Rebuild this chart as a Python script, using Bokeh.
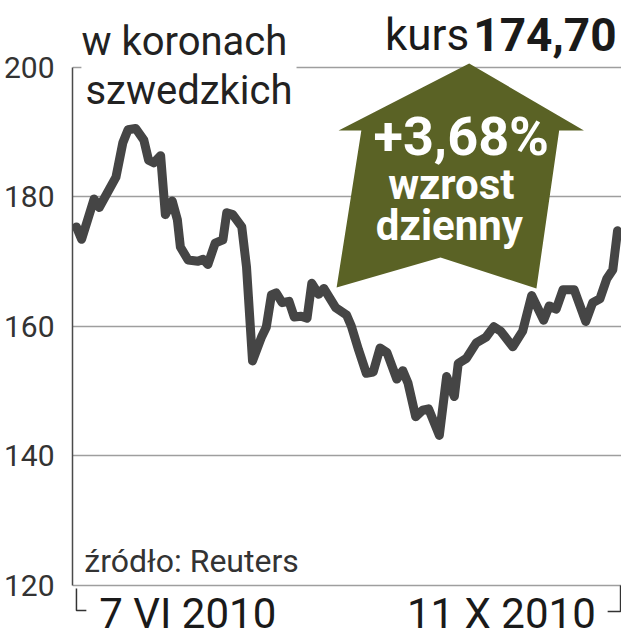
from bokeh.plotting import figure
from bokeh.models import Range1d, FixedTicker, Label
from bokeh.embed import file_html
from bokeh.resources import INLINE

# ---------------- data ----------------
# calendar days since 7 VI 2010
days = [0, 1.2, 4.1, 5.3, 9.2, 10.8, 12.0, 13.8, 15.7, 16.8, 18.0, 19.6, 20.7, 22.3,
        23.5, 24.2, 26.0, 28.3, 29.5, 30.6, 32.3, 34.1, 35.0, 36.4, 38.5, 39.6, 41.0,
        43.1, 44.2, 45.4, 46.5, 47.9, 49.5, 50.7, 52.3, 53.7, 54.8, 56.4, 57.6, 60.4,
        62.9, 64.0, 65.7, 67.5, 69.1, 70.7, 72.3, 74.6, 76.0, 77.2, 79.0, 80.6, 82.0,
        84.5, 86.2, 88.0, 88.9, 90.8, 93.1, 95.4, 97.2, 98.8, 101.6, 103.9, 106.0,
        108.8, 110.1, 111.7, 113.3, 115.9, 118.6, 120.2, 121.9, 123.5, 124.9, 126.0]
prices = [175.3, 173.4, 179.6, 178.3, 183.0, 188.3, 190.3, 190.5, 188.7, 185.6, 185.2,
          186.3, 177.2, 179.3, 176.4, 172.2, 170.2, 170.0, 170.3, 169.5, 172.8, 173.3,
          177.5, 177.2, 175.3, 169.1, 154.6, 158.3, 159.8, 164.8, 165.1, 163.6, 163.8,
          161.4, 161.5, 161.2, 166.6, 164.9, 165.8, 162.8, 161.7, 160.0, 156.3, 152.7,
          152.9, 156.6, 155.9, 151.8, 153.1, 151.2, 146.0, 147.0, 147.2, 143.1, 152.2,
          149.1, 154.2, 155.0, 157.4, 158.3, 159.9, 159.2, 156.8, 159.2, 164.7, 160.9,
          163.1, 162.6, 165.6, 165.6, 160.7, 163.6, 164.2, 167.3, 168.7, 174.7]

y_ticks = [120, 140, 160, 180, 200]
date_labels = ["7 VI 2010", "11 X 2010"]
unit_lines = ["w koronach", "szwedzkich"]
price_prefix = "kurs"
price_label = "174,70"
change_label = "+3,68%"
change_words = ["wzrost", "dzienny"]
source_label = "źródło: Reuters"

# ---------------- layout helpers (reference pixel -> data) ----------------
PX_PER_DAY = 547 / 126.0
PX_PER_UNIT = 6.475

def dx(px):
    return (px - 70) / PX_PER_DAY

def vy(py):
    return 120 + (584.5 - py) / PX_PER_UNIT

W, H = 621, 640
LEFT = 66
x0 = dx(LEFT)
x1 = dx(W)

p = figure(width=W, height=H, output_backend="svg", toolbar_location=None,
           x_axis_type=None, x_range=Range1d(x0, x1),
           y_range=Range1d(vy(H), vy(0)),
           min_border_left=LEFT, min_border_right=0, min_border_top=0,
           min_border_bottom=0)
p.outline_line_color = None
p.background_fill_color = "white"
p.border_fill_color = "white"

# y axis
p.yaxis.ticker = FixedTicker(ticks=y_ticks)
p.yaxis.bounds = (y_ticks[0], y_ticks[-1])
p.yaxis.major_tick_line_color = None
p.yaxis.minor_tick_line_color = None
p.yaxis.major_label_standoff = 12
p.yaxis.major_label_text_font = "Roboto"
p.yaxis.major_label_text_font_size = "30px"
p.yaxis.major_label_text_color = "#333333"
p.yaxis.axis_line_color = "#4a4a4a"
p.yaxis.axis_line_width = 1.5

p.ygrid.ticker = FixedTicker(ticks=y_ticks)
p.ygrid.grid_line_color = "#9e9e9e"
p.ygrid.grid_line_width = 1.5
p.xgrid.grid_line_color = None

# arrow (decoration)
arrow_px = [(467, 63), (583, 130), (558, 130), (535, 288), (438, 257),
            (333, 287), (358, 130), (335, 130)]
p.patch([dx(a) for a, b in arrow_px], [vy(b) for a, b in arrow_px],
        fill_color="#5a6225", line_color=None)

# price line
p.line(days, prices, line_width=9, line_color="#454545",
       line_join="round", line_cap="round")

# end brackets of the time axis
xl = days[0]
xr = days[-1] + 0.7
p.line([xl, xl, dx(80)], [vy(588), vy(610), vy(610)], line_color="#333333", line_width=1.5)
p.line([dx(607), xr, xr], [vy(611), vy(611), vy(585)], line_color="#333333", line_width=1.5)

K = 0.31  # empirical baseline correction (fraction of font size)

def lab(text, x, base_py, size, align="left", style="normal", color="#222222", **kw):
    p.add_layout(Label(x=x, y=vy(base_py - K * size), text=text, text_font="Roboto",
                       text_font_size=f"{size}px", text_font_style=style,
                       text_color=color, text_align=align,
                       text_baseline="alphabetic", **kw))

lab(unit_lines[0], dx(75), 53, 40)
lab(unit_lines[1], dx(75), 102, 40, background_fill_color="white", padding=4)
lab(price_prefix, dx(467), 48, 44, align="right", color="#1a1a1a")
lab(price_label, dx(616), 48, 46, align="right", style="bold", color="#1a1a1a")
lab(change_label, dx(459), 153, 54, align="center", style="bold", color="white")
lab(change_words[0], dx(449), 197, 42, align="center", style="bold", color="white")
lab(change_words[1], dx(447), 238, 42, align="center", style="bold", color="white")
lab(source_label, dx(78), 570, 32, color="#333333")
lab(date_labels[0], dx(93), 626, 42, color="#1a1a1a")
lab(date_labels[1], dx(595), 626, 42, align="right", color="#1a1a1a")

open("out.html", "w").write(file_html(p, INLINE))
